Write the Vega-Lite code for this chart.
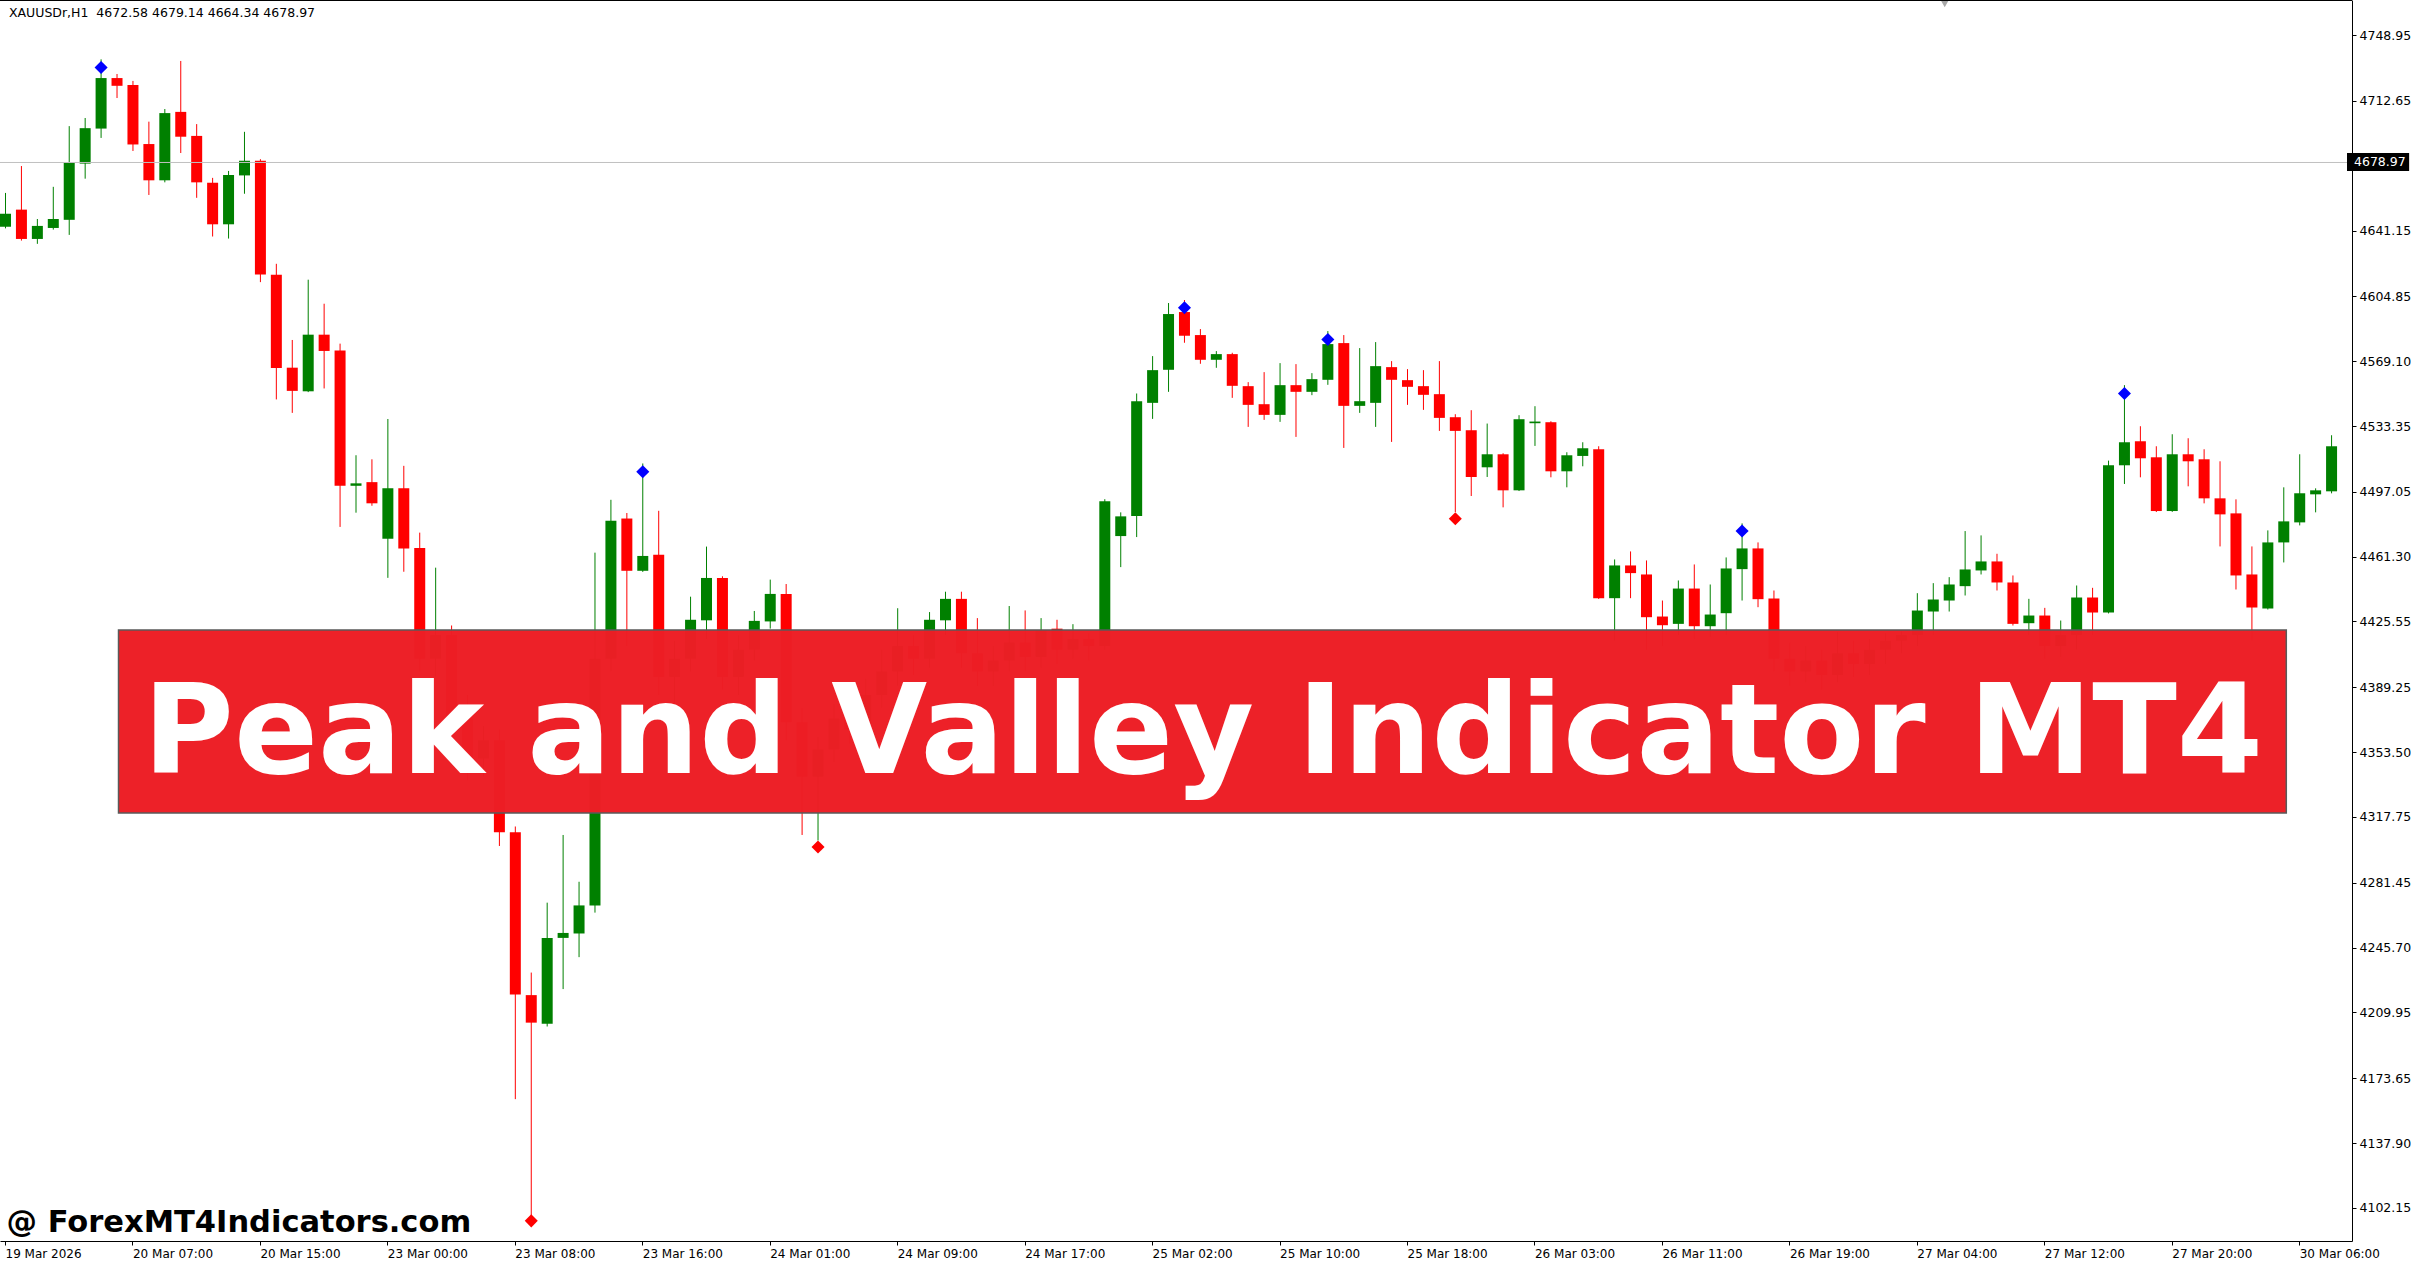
{
"$schema":"https://vega.github.io/schema/vega-lite/v6.json",
"width":2352,"height":1241,"autosize":{"type":"none"},"padding":{"left":0,"top":0,"right":67,"bottom":26},"background":"white",
"config":{"view":{"stroke":null},"axis":{"grid":false,"domainColor":"#000000","tickColor":"#000000","labelColor":"#000000","labelFont":"DejaVu Sans","domainWidth":1,"tickWidth":1}},
"datasets":{
"candles":[
{"i":0,"o":4643.26,"h":4661.90,"l":4642.36,"c":4650.44},
{"i":1,"o":4652.69,"h":4676.73,"l":4635.62,"c":4636.52},
{"i":2,"o":4636.52,"h":4647.52,"l":4633.82,"c":4643.71},
{"i":3,"o":4642.58,"h":4665.27,"l":4641.68,"c":4647.52},
{"i":4,"o":4647.07,"h":4698.74,"l":4638.76,"c":4678.52},
{"i":5,"o":4678.07,"h":4703.23,"l":4669.76,"c":4697.62},
{"i":6,"o":4697.39,"h":4735.58,"l":4692.23,"c":4725.25},
{"i":7,"o":4725.25,"h":4727.49,"l":4714.24,"c":4720.98},
{"i":8,"o":4721.43,"h":4723.67,"l":4685.04,"c":4688.63},
{"i":9,"o":4688.86,"h":4701.21,"l":4660.78,"c":4668.86},
{"i":10,"o":4668.86,"h":4708.17,"l":4667.74,"c":4705.93},
{"i":11,"o":4706.60,"h":4734.68,"l":4683.91,"c":4692.90},
{"i":12,"o":4693.35,"h":4699.86,"l":4659.20,"c":4667.74},
{"i":13,"o":4667.52,"h":4670.21,"l":4637.87,"c":4644.60},
{"i":14,"o":4644.60,"h":4674.03,"l":4636.74,"c":4671.78},
{"i":15,"o":4671.56,"h":4695.60,"l":4661.45,"c":4679.65},
{"i":16,"o":4679.65,"h":4680.50,"l":4612.71,"c":4616.97},
{"i":17,"o":4616.75,"h":4622.81,"l":4548.02,"c":4565.31},
{"i":18,"o":4565.53,"h":4580.81,"l":4540.60,"c":4552.73},
{"i":19,"o":4552.50,"h":4614.05,"l":4552.05,"c":4583.73},
{"i":20,"o":4583.73,"h":4600.80,"l":4554.07,"c":4574.75},
{"i":21,"o":4574.97,"h":4578.79,"l":4477.70,"c":4500.39},
{"i":22,"o":4500.39,"h":4517.24,"l":4485.56,"c":4501.74},
{"i":23,"o":4502.41,"h":4515.00,"l":4489.38,"c":4490.73},
{"i":24,"o":4471.19,"h":4537.23,"l":4449.62,"c":4499.04},
{"i":25,"o":4499.04,"h":4511.40,"l":4452.99,"c":4465.80},
{"i":26,"o":4466.02,"h":4474.56,"l":4398.00,"c":4405.00},
{"i":27,"o":4405.00,"h":4455.24,"l":4395.00,"c":4418.00},
{"i":28,"o":4418.00,"h":4423.35,"l":4365.00,"c":4372.00},
{"i":29,"o":4372.00,"h":4385.00,"l":4338.00,"c":4350.00},
{"i":30,"o":4350.00,"h":4368.00,"l":4340.00,"c":4360.00},
{"i":31,"o":4360.00,"h":4366.00,"l":4301.75,"c":4309.34},
{"i":32,"o":4309.34,"h":4312.50,"l":4162.13,"c":4219.80},
{"i":33,"o":4219.50,"h":4231.94,"l":4095.36,"c":4204.32},
{"i":34,"o":4203.71,"h":4270.49,"l":4202.20,"c":4251.06},
{"i":35,"o":4251.06,"h":4307.82,"l":4222.83,"c":4253.79},
{"i":36,"o":4253.49,"h":4282.02,"l":4240.44,"c":4268.97},
{"i":37,"o":4268.97,"h":4463.52,"l":4265.00,"c":4405.00},
{"i":38,"o":4405.00,"h":4492.66,"l":4398.00,"c":4481.13},
{"i":39,"o":4482.34,"h":4485.38,"l":4412.00,"c":4453.51},
{"i":40,"o":4453.51,"h":4512.70,"l":4452.90,"c":4461.70},
{"i":41,"o":4462.31,"h":4486.60,"l":4385.00,"c":4395.00},
{"i":42,"o":4395.00,"h":4415.00,"l":4380.00,"c":4405.00},
{"i":43,"o":4405.00,"h":4439.24,"l":4398.00,"c":4426.50},
{"i":44,"o":4426.20,"h":4466.86,"l":4416.00,"c":4449.56},
{"i":45,"o":4449.56,"h":4450.47,"l":4388.00,"c":4395.00},
{"i":46,"o":4395.00,"h":4418.00,"l":4385.00,"c":4410.00},
{"i":47,"o":4410.00,"h":4431.35,"l":4404.00,"c":4425.89},
{"i":48,"o":4425.59,"h":4448.65,"l":4421.64,"c":4440.76},
{"i":49,"o":4440.76,"h":4446.22,"l":4360.00,"c":4370.00},
{"i":50,"o":4370.00,"h":4378.00,"l":4307.82,"c":4340.00},
{"i":51,"o":4340.00,"h":4362.00,"l":4304.78,"c":4355.00},
{"i":52,"o":4355.00,"h":4380.00,"l":4348.00,"c":4372.00},
{"i":53,"o":4372.00,"h":4385.00,"l":4358.00,"c":4366.00},
{"i":54,"o":4366.00,"h":4394.00,"l":4360.00,"c":4385.00},
{"i":55,"o":4385.00,"h":4410.00,"l":4378.00,"c":4398.00},
{"i":56,"o":4398.00,"h":4432.87,"l":4390.00,"c":4412.00},
{"i":57,"o":4412.00,"h":4418.00,"l":4396.00,"c":4405.00},
{"i":58,"o":4405.00,"h":4430.75,"l":4400.00,"c":4426.50},
{"i":59,"o":4426.20,"h":4441.98,"l":4418.00,"c":4438.03},
{"i":60,"o":4438.03,"h":4441.98,"l":4400.00,"c":4408.00},
{"i":61,"o":4408.00,"h":4427.41,"l":4390.00,"c":4398.00},
{"i":62,"o":4398.00,"h":4412.00,"l":4390.00,"c":4404.00},
{"i":63,"o":4404.00,"h":4434.08,"l":4398.00,"c":4414.00},
{"i":64,"o":4414.00,"h":4431.65,"l":4398.00,"c":4406.00},
{"i":65,"o":4406.00,"h":4427.41,"l":4400.00,"c":4420.70},
{"i":66,"o":4421.60,"h":4426.50,"l":4402.00,"c":4410.00},
{"i":67,"o":4410.00,"h":4424.07,"l":4405.00,"c":4416.00},
{"i":68,"o":4416.00,"h":4419.00,"l":4404.00,"c":4412.00},
{"i":69,"o":4412.00,"h":4493.00,"l":4410.00,"c":4491.81},
{"i":70,"o":4472.66,"h":4485.74,"l":4455.54,"c":4483.53},
{"i":71,"o":4483.71,"h":4551.29,"l":4472.11,"c":4547.05},
{"i":72,"o":4546.13,"h":4571.91,"l":4537.29,"c":4564.17},
{"i":73,"o":4564.36,"h":4601.18,"l":4552.21,"c":4595.11},
{"i":74,"o":4596.21,"h":4602.84,"l":4579.27,"c":4583.14},
{"i":75,"o":4583.51,"h":4586.82,"l":4567.67,"c":4569.88},
{"i":76,"o":4569.88,"h":4574.67,"l":4565.46,"c":4573.01},
{"i":77,"o":4573.01,"h":4573.75,"l":4548.89,"c":4555.52},
{"i":78,"o":4555.34,"h":4557.55,"l":4532.87,"c":4545.02},
{"i":79,"o":4545.39,"h":4563.07,"l":4536.74,"c":4539.50},
{"i":80,"o":4539.50,"h":4568.04,"l":4535.64,"c":4555.89},
{"i":81,"o":4555.89,"h":4567.49,"l":4527.35,"c":4552.21},
{"i":82,"o":4552.21,"h":4562.52,"l":4550.37,"c":4559.21},
{"i":83,"o":4558.84,"h":4585.72,"l":4556.07,"c":4578.54},
{"i":84,"o":4579.09,"h":4583.51,"l":4521.27,"c":4544.47},
{"i":85,"o":4544.47,"h":4576.33,"l":4540.61,"c":4547.05},
{"i":86,"o":4546.13,"h":4579.64,"l":4532.87,"c":4566.38},
{"i":87,"o":4565.83,"h":4569.15,"l":4524.59,"c":4558.84},
{"i":88,"o":4558.65,"h":4564.73,"l":4545.02,"c":4554.97},
{"i":89,"o":4555.34,"h":4564.17,"l":4542.26,"c":4550.55},
{"i":90,"o":4550.92,"h":4569.15,"l":4530.66,"c":4537.84},
{"i":91,"o":4538.21,"h":4539.87,"l":4485.92,"c":4530.66},
{"i":92,"o":4531.03,"h":4542.08,"l":4494.76,"c":4505.25},
{"i":93,"o":4510.59,"h":4534.71,"l":4505.25,"c":4517.77},
{"i":94,"o":4517.77,"h":4518.33,"l":4488.50,"c":4497.89},
{"i":95,"o":4497.89,"h":4539.32,"l":4497.50,"c":4537.11},
{"i":96,"o":4534.90,"h":4544.29,"l":4522.38,"c":4535.82},
{"i":97,"o":4535.45,"h":4536.00,"l":4505.07,"c":4508.38},
{"i":98,"o":4508.38,"h":4518.88,"l":4499.55,"c":4517.22},
{"i":99,"o":4516.85,"h":4524.40,"l":4511.15,"c":4521.09},
{"i":100,"o":4520.54,"h":4522.19,"l":4438.00,"c":4438.41},
{"i":101,"o":4438.41,"h":4459.77,"l":4415.00,"c":4456.46},
{"i":102,"o":4456.46,"h":4464.19,"l":4438.41,"c":4452.23},
{"i":103,"o":4451.49,"h":4459.22,"l":4410.00,"c":4427.92},
{"i":104,"o":4428.29,"h":4437.12,"l":4412.00,"c":4423.50},
{"i":105,"o":4424.24,"h":4448.17,"l":4418.00,"c":4443.72},
{"i":106,"o":4443.72,"h":4457.01,"l":4416.00,"c":4422.95},
{"i":107,"o":4422.95,"h":4445.96,"l":4417.00,"c":4429.39},
{"i":108,"o":4430.13,"h":4460.88,"l":4418.00,"c":4454.80},
{"i":109,"o":4454.43,"h":4479.66,"l":4437.12,"c":4465.85},
{"i":110,"o":4465.85,"h":4469.16,"l":4433.44,"c":4437.86},
{"i":111,"o":4438.23,"h":4442.65,"l":4398.00,"c":4405.00},
{"i":112,"o":4405.00,"h":4414.00,"l":4390.00,"c":4398.00},
{"i":113,"o":4398.00,"h":4412.00,"l":4392.00,"c":4404.00},
{"i":114,"o":4404.00,"h":4410.00,"l":4388.00,"c":4396.00},
{"i":115,"o":4396.00,"h":4420.00,"l":4392.00,"c":4408.00},
{"i":116,"o":4408.00,"h":4415.00,"l":4395.00,"c":4402.00},
{"i":117,"o":4402.00,"h":4416.00,"l":4396.00,"c":4410.00},
{"i":118,"o":4410.00,"h":4419.00,"l":4402.00,"c":4415.00},
{"i":119,"o":4415.00,"h":4420.00,"l":4408.00,"c":4418.00},
{"i":120,"o":4418.00,"h":4441.17,"l":4412.00,"c":4431.60},
{"i":121,"o":4431.05,"h":4446.70,"l":4418.00,"c":4437.68},
{"i":122,"o":4437.12,"h":4450.01,"l":4431.05,"c":4445.96},
{"i":123,"o":4445.04,"h":4475.42,"l":4439.89,"c":4454.25},
{"i":124,"o":4453.70,"h":4473.03,"l":4451.49,"c":4458.67},
{"i":125,"o":4458.67,"h":4462.90,"l":4442.65,"c":4447.07},
{"i":126,"o":4447.07,"h":4450.94,"l":4423.32,"c":4424.24},
{"i":127,"o":4424.61,"h":4438.05,"l":4418.00,"c":4428.84},
{"i":128,"o":4428.84,"h":4433.07,"l":4405.00,"c":4412.00},
{"i":129,"o":4412.00,"h":4426.08,"l":4406.00,"c":4418.00},
{"i":130,"o":4418.00,"h":4445.41,"l":4410.00,"c":4438.78},
{"i":131,"o":4438.78,"h":4444.12,"l":4418.00,"c":4430.50},
{"i":132,"o":4430.50,"h":4514.28,"l":4430.00,"c":4511.70},
{"i":133,"o":4511.70,"h":4555.89,"l":4501.39,"c":4524.40},
{"i":134,"o":4524.95,"h":4533.24,"l":4505.07,"c":4515.56},
{"i":135,"o":4516.11,"h":4522.19,"l":4485.92,"c":4486.47},
{"i":136,"o":4486.47,"h":4528.82,"l":4486.00,"c":4517.77},
{"i":137,"o":4517.77,"h":4526.61,"l":4500.10,"c":4513.90},
{"i":138,"o":4515.01,"h":4520.54,"l":4490.71,"c":4493.47},
{"i":139,"o":4493.47,"h":4513.90,"l":4466.95,"c":4484.63},
{"i":140,"o":4485.18,"h":4492.92,"l":4443.20,"c":4450.94},
{"i":141,"o":4451.49,"h":4466.95,"l":4415.00,"c":4433.26},
{"i":142,"o":4432.71,"h":4475.79,"l":4432.16,"c":4469.16},
{"i":143,"o":4469.16,"h":4499.55,"l":4458.12,"c":4480.77},
{"i":144,"o":4480.21,"h":4517.77,"l":4478.55,"c":4496.27},
{"i":145,"o":4495.68,"h":4498.99,"l":4485.74,"c":4497.89},
{"i":146,"o":4497.34,"h":4528.27,"l":4496.23,"c":4522.19}
],
"markers":[
{"i":6,"p":4731.09,"t":"peak"},
{"i":40,"p":4508.14,"t":"peak"},
{"i":74,"p":4598.60,"t":"peak"},
{"i":83,"p":4581.12,"t":"peak"},
{"i":109,"p":4475.40,"t":"peak"},
{"i":133,"p":4551.29,"t":"peak"},
{"i":33,"p":4095.00,"t":"valley"},
{"i":51,"p":4301.14,"t":"valley"},
{"i":91,"p":4482.24,"t":"valley"}
]
},
"layer":[
{"data":{"name":"candles"},
 "mark":{"type":"rule","strokeWidth":1,"xOffset":0.5},
 "encoding":{
  "x":{"field":"i","type":"quantitative","scale":{"domain":[0,147],"nice":false,"zero":false},
   "axis":{"title":null,"orient":"bottom","values":[0,8,16,24,32,40,48,56,64,72,80,88,96,104,112,120,128,136,144],
    "labelExpr":"['19 Mar 2026','20 Mar 07:00','20 Mar 15:00','23 Mar 00:00','23 Mar 08:00','23 Mar 16:00','24 Mar 01:00','24 Mar 09:00','24 Mar 17:00','25 Mar 02:00','25 Mar 10:00','25 Mar 18:00','26 Mar 03:00','26 Mar 11:00','26 Mar 19:00','27 Mar 04:00','27 Mar 12:00','27 Mar 20:00','30 Mar 06:00'][round(datum.value/8)]",
    "tickSize":4,"labelAlign":"left","labelBaseline":"top","labelPadding":3,"labelFontSize":12,"labelFlush":false,"labelOverlap":false,"labelBound":false}},
  "y":{"field":"l","type":"quantitative","scale":{"domain":[4083.9,4768.3],"nice":false,"zero":false},
   "axis":{"title":null,"orient":"right","values":[4748.95,4712.65,4641.15,4604.85,4569.10,4533.35,4497.05,4461.30,4425.55,4389.25,4353.50,4317.75,4281.45,4245.70,4209.95,4173.65,4137.90,4102.15],
    "format":".2f","tickSize":4,"labelPadding":3,"labelFontSize":12.5,"labelAlign":"left","labelBaseline":"middle","labelOverlap":false,"labelFlush":false,"labelBound":false}},
  "y2":{"field":"h"},
  "color":{"condition":{"test":"datum.c >= datum.o","value":"#008000"},"value":"#FF0000"}
 }},
{"data":{"name":"candles"},
 "mark":{"type":"bar","size":11,"xOffset":0.5,"orient":"vertical"},
 "encoding":{
  "x":{"field":"i","type":"quantitative","title":null},
  "y":{"field":"o","type":"quantitative","title":null},
  "y2":{"field":"c"},
  "color":{"condition":{"test":"datum.c >= datum.o","value":"#008000"},"value":"#FF0000"}
 }},
{"data":{"values":[{}]},
 "mark":{"type":"rule","color":"#c0c0c0","strokeWidth":1,"yOffset":0.5},
 "encoding":{"y":{"datum":4678.97}}},
{"data":{"name":"markers"},
 "mark":{"type":"point","shape":"diamond","filled":true,"size":170,"opacity":1,"xOffset":0.5},
 "encoding":{
  "x":{"field":"i","type":"quantitative","title":null},
  "y":{"field":"p","type":"quantitative","title":null},
  "color":{"field":"t","type":"nominal","scale":{"domain":["peak","valley"],"range":["#0000FF","#FF0000"]},"legend":null}
 }},
{"data":{"values":[{}]},
 "mark":{"type":"rect","fill":"#ED1D25","fillOpacity":0.985,"stroke":"#5a5a5a","strokeWidth":1.5},
 "encoding":{"x":{"datum":7.125},"x2":{"datum":143.19},"y":{"datum":4420.85},"y2":{"datum":4319.9}}},
{"data":{"values":[{}]},
 "mark":{"type":"text","text":"Peak and Valley Indicator MT4","font":"DejaVu Sans","fontWeight":"bold","fontSize":124,"color":"#FFFFFF","align":"center","baseline":"alphabetic"},
 "encoding":{"x":{"datum":75.2},"y":{"datum":4342.0}}},
{"data":{"values":[{}]},
 "mark":{"type":"text","text":"@ ForexMT4Indicators.com","font":"DejaVu Sans","fontWeight":"bold","fontSize":30.5,"color":"#000000","align":"left","baseline":"alphabetic"},
 "encoding":{"x":{"datum":0.1},"y":{"datum":4089.0}}},
{"data":{"values":[{}]},
 "mark":{"type":"text","text":"XAUUSDr,H1\u00a0\u00a04672.58 4679.14 4664.34 4678.97","font":"DejaVu Sans","fontSize":12.5,"color":"#000000","align":"left","baseline":"alphabetic"},
 "encoding":{"x":{"datum":0.25},"y":{"datum":4758.9}}},
{"data":{"values":[{}]},
 "mark":{"type":"rule","color":"#000000","strokeWidth":2},
 "encoding":{"y":{"datum":4768.3}}},
{"data":{"values":[{}]},
 "mark":{"type":"point","shape":"triangle-down","filled":true,"size":50,"color":"#A8A8A8","opacity":1},
 "encoding":{"x":{"datum":121.75},"y":{"datum":4766.0}}},
{"data":{"values":[{}]},
 "mark":{"type":"rect","fill":"#000000"},
 "encoding":{"x":{"datum":147.0},"x2":{"datum":150.9},"y":{"datum":4674.0},"y2":{"datum":4683.9}}},
{"data":{"values":[{}]},
 "mark":{"type":"text","text":"4678.97","font":"DejaVu Sans","fontSize":12.5,"color":"#FFFFFF","align":"left","baseline":"middle"},
 "encoding":{"x":{"datum":147.44},"y":{"datum":4678.97}}}
]
}
